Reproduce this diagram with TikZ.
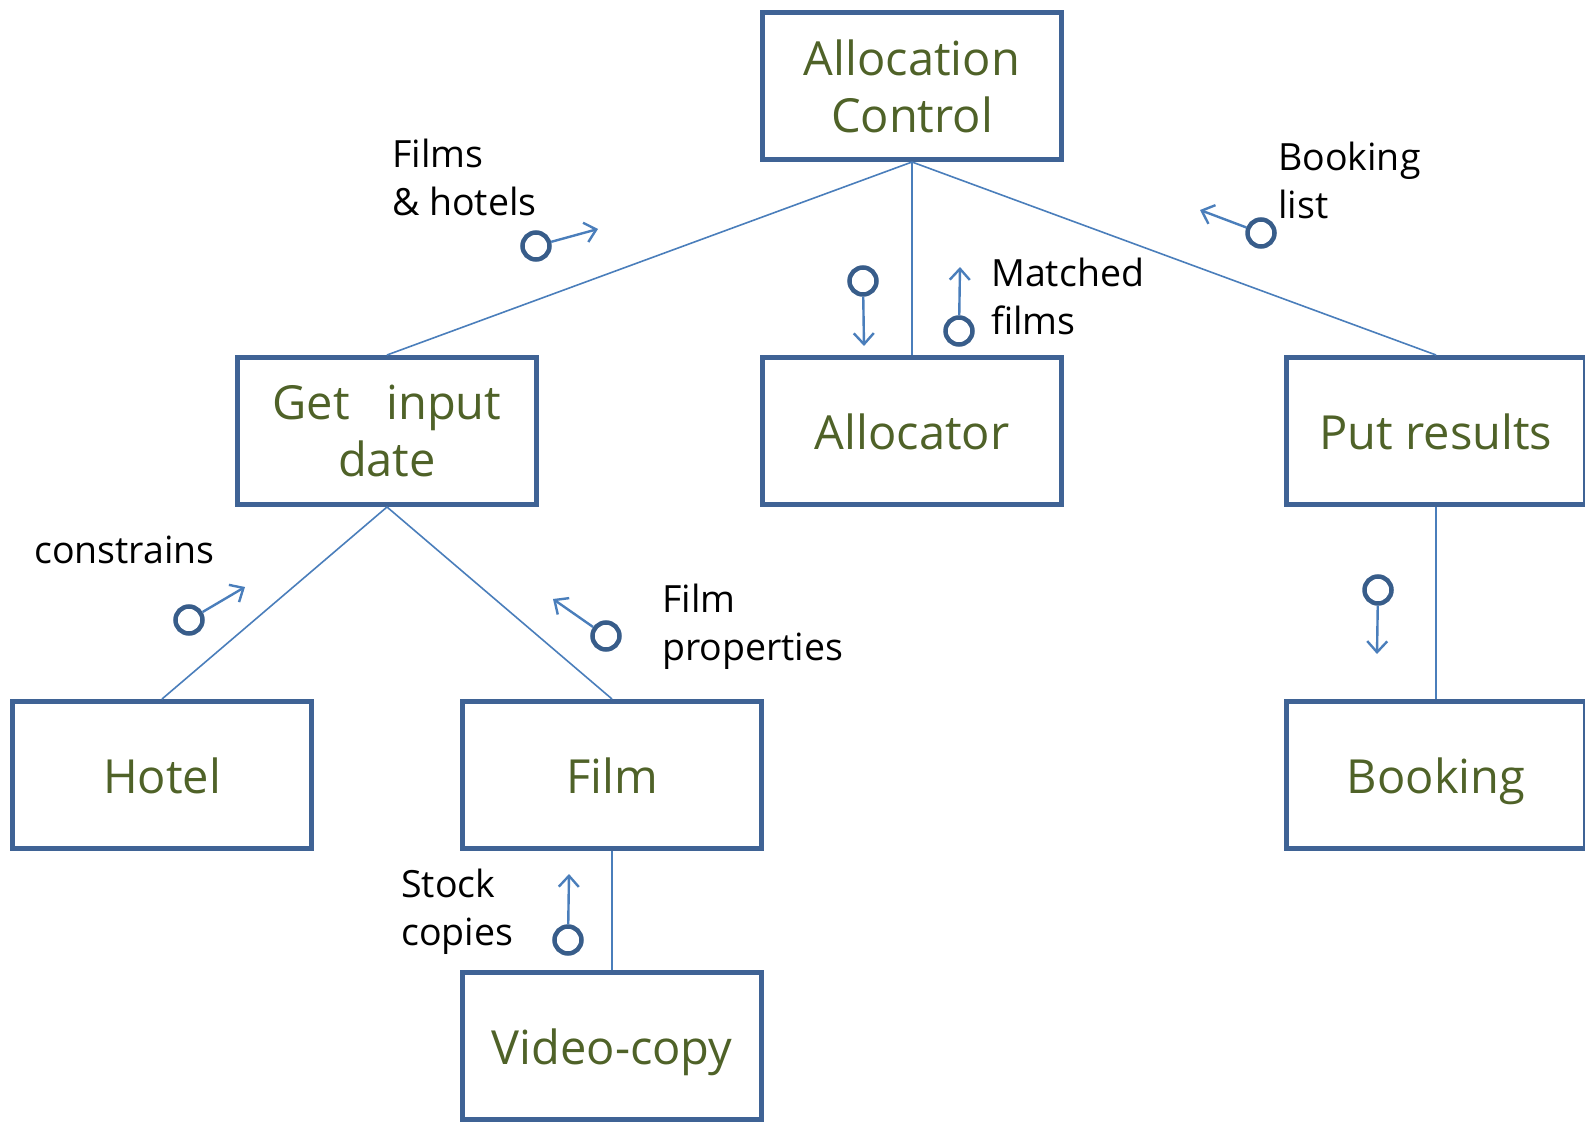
\documentclass[tikz,border=0pt]{standalone}
\usepackage{fontspec}
\setmainfont{Open Sans}
\usetikzlibrary{arrows.meta}
\definecolor{boxblue}{HTML}{3F6395}
\definecolor{linkblue}{HTML}{4A7EBB}
\definecolor{txtgreen}{HTML}{4F6228}
\definecolor{circblue}{HTML}{385D8A}
\tikzset{
  x=1pt,y=-1pt,
  modbox/.style={draw=boxblue,line width=5pt,rectangle,minimum width=299pt,minimum height=147pt,
    inner sep=0pt,align=center,text=txtgreen,font=\fontsize{47}{57}\selectfont},
  onebox/.style={modbox,text height=36pt,text depth=0pt},
  link/.style={draw=linkblue,line width=1.6pt},
  couple/.style={draw=circblue,line width=4.5pt,circle,minimum size=27pt,inner sep=0pt},
  flow/.style={draw=linkblue,line width=2.4pt,-{Straight Barb[length=11pt,width=20pt,line width=2.4pt]},shorten <=0pt},
  lbl/.style={anchor=west,align=left,inner sep=0pt,text=black,font=\fontsize{37.5}{48}\selectfont}
}
\begin{document}
\begin{tikzpicture}
\useasboundingbox (0,0) rectangle (1585,1124);
% boxes
\node[modbox] (ac) at (912,86) {Allocation\\Control};
\node[modbox] (gid) at (387,431) {Get\ \ \ input\\date};
\node[onebox] (all) at (912,431) {Allocator};
\node[onebox] (pr) at (1436,431) {Put results};
\node[onebox] (hotel) at (162,775) {Hotel};
\node[onebox] (film) at (612,775) {Film};
\node[onebox] (book) at (1436,775) {Booking};
\node[onebox] (vc) at (612,1046) {Video-copy};
% tree links
\draw[link] (ac.south) -- (gid.north);
\draw[link] (ac.south) -- (all.north);
\draw[link] (ac.south) -- (pr.north);
\draw[link] (gid.south) -- (hotel.north);
\draw[link] (gid.south) -- (film.north);
\draw[link] (pr.south) -- (book.north);
\draw[link] (film.south) -- (vc.north);
% couples
\node[couple] (c1) at (536,246) {};
\coordinate (c1e) at (598,229);
\draw[flow] (c1) -- (c1e);
\node[couple] (c2) at (863,281) {};
\coordinate (c2e) at (864,346);
\draw[flow] (c2) -- (c2e);
\node[couple] (c3) at (959,331) {};
\coordinate (c3e) at (960,267);
\draw[flow] (c3) -- (c3e);
\node[couple] (c4) at (1261,233) {};
\coordinate (c4e) at (1200,210);
\draw[flow] (c4) -- (c4e);
\node[couple] (c5) at (189,620) {};
\coordinate (c5e) at (245,587);
\draw[flow] (c5) -- (c5e);
\node[couple] (c6) at (606,636) {};
\coordinate (c6e) at (553,599);
\draw[flow] (c6) -- (c6e);
\node[couple] (c7) at (1378,590) {};
\coordinate (c7e) at (1377,654);
\draw[flow] (c7) -- (c7e);
\node[couple] (c8) at (568,940) {};
\coordinate (c8e) at (569,874);
\draw[flow] (c8) -- (c8e);
% labels
\node[lbl] (l1) at (392,177) {Films\\\& hotels};
\node[lbl] (l2) at (1278,180) {Booking\\list};
\node[lbl] (l3) at (991,296) {Matched\\films};
\node[lbl] (l4) at (34,550) {constrains};
\node[lbl] (l5) at (662,627) {Film\\properties};
\node[lbl] (l6) at (401,912) {Stock\\copies};
\end{tikzpicture}
\end{document}
